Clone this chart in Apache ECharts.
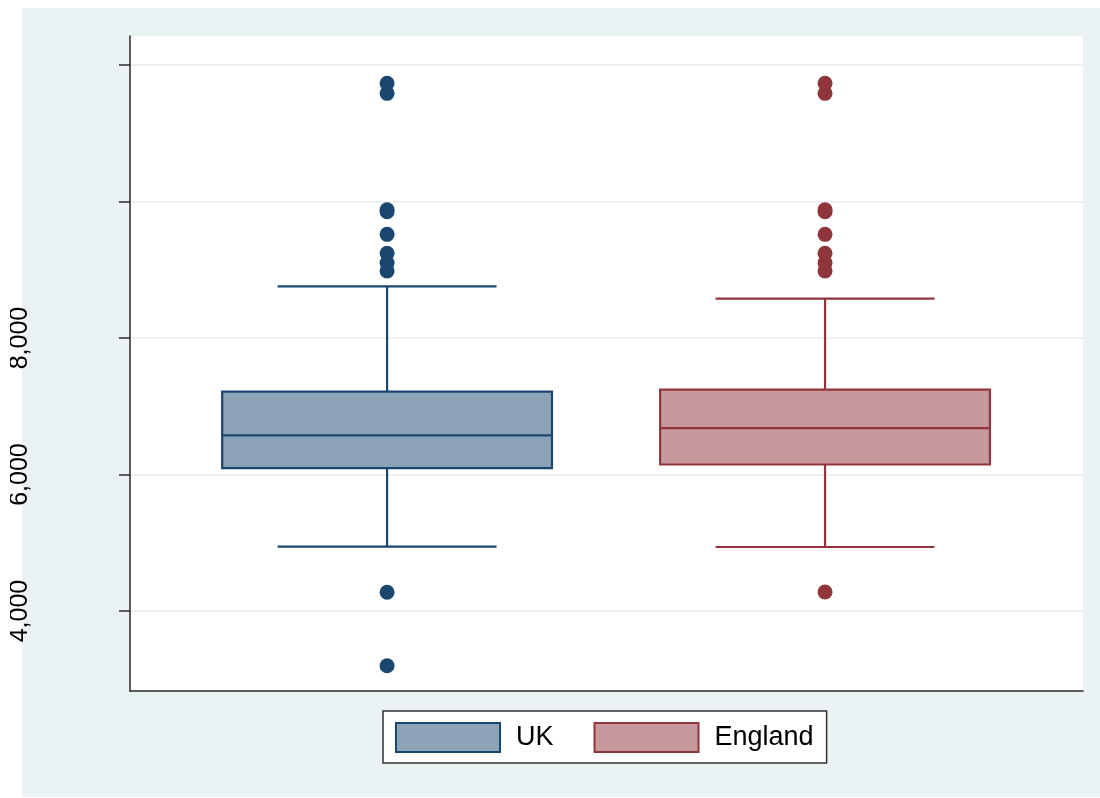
<!DOCTYPE html>
<html>
<head>
<meta charset="utf-8">
<title>UK vs England box plot</title>
<script src="https://cdn.jsdelivr.net/npm/echarts@6/dist/echarts.min.js"></script>
<style>
  html, body { margin: 0; padding: 0; background: #ffffff; }
  #chart { width: 1100px; height: 798px; }
</style>
</head>
<body>
<div id="chart"></div>
<script>
// Groups and their x positions
const categories = ['UK', 'England'];
const positions = [1, 2];

// Box statistics: [lower whisker, Q1, median, Q3, upper whisker]
const ukBox = [4942, 6095, 6574, 7213, 8757];
const englandBox = [4938, 6147, 6681, 7245, 8576];

// Outside values
const ukOutliers = [3199, 4274, 8982, 9103, 9241, 9519, 9850, 9880, 11585, 11732];
const englandOutliers = [4278, 8982, 9103, 9241, 9519, 9850, 9880, 11585, 11732];

// Axis ticks and labels
const yTicks = [4000, 6000, 8000, 10000, 12000];
const yLabels = [4000, 6000, 8000];

const lineColors = ['#1A476F', '#90353B'];
const fillColors = ['#8CA3B7', '#C8999C'];

const BOX_W = 0.753;
const CAP_W = 0.5;

function boxRenderer(lineColor, fillColor) {
  return function (params, api) {
    const x = api.value(0);
    const lo = api.value(1), q1 = api.value(2), med = api.value(3), q3 = api.value(4), hi = api.value(5);
    const c = (xx, yy) => api.coord([xx, yy]);
    const hb = BOX_W / 2, hc = CAP_W / 2;
    const bl = c(x - hb, q3), br = c(x + hb, q1);
    const lineStyle = { stroke: lineColor, lineWidth: 2.2, fill: null };
    const seg = (a, b) => ({ type: 'line', shape: { x1: a[0], y1: a[1], x2: b[0], y2: b[1] }, style: lineStyle });
    return {
      type: 'group',
      children: [
        seg(c(x, hi), c(x, q3)),
        seg(c(x, lo), c(x, q1)),
        seg(c(x - hc, hi), c(x + hc, hi)),
        seg(c(x - hc, lo), c(x + hc, lo)),
        {
          type: 'rect',
          shape: { x: bl[0], y: bl[1], width: br[0] - bl[0], height: br[1] - bl[1] },
          style: { fill: fillColor, stroke: lineColor, lineWidth: 2.2 }
        },
        seg(c(x - hb, med), c(x + hb, med))
      ]
    };
  };
}

const boxes = [ukBox, englandBox];
const outliers = [ukOutliers, englandOutliers];

const series = [];
categories.forEach((name, i) => {
  series.push({
    name: name,
    type: 'custom',
    renderItem: boxRenderer(lineColors[i], fillColors[i]),
    encode: { x: 0, y: [1, 2, 3, 4, 5] },
    data: [[positions[i]].concat(boxes[i])],
    z: 3
  });
  series.push({
    name: name,
    type: 'scatter',
    symbol: 'circle',
    symbolSize: 15,
    itemStyle: { color: lineColors[i], opacity: 1 },
    emphasis: { disabled: true },
    data: outliers[i].map(v => [positions[i], v]),
    z: 4
  });
});

const chart = echarts.init(document.getElementById('chart'), null, { renderer: 'canvas' });
chart.setOption({
  animation: false,
  backgroundColor: '#ffffff',
  textStyle: { fontFamily: 'Liberation Sans, Arial, sans-serif' },
  graphic: [
    {
      type: 'rect', z: -10, silent: true,
      shape: { x: 22, y: 8, width: 1078, height: 789 },
      style: { fill: '#EAF2F3' }
    },
    {
      type: 'rect', z: 100, silent: true,
      shape: { x: 0, y: 0, width: 10, height: 798 },
      style: { fill: '#ffffff' }
    }
  ],
  grid: {
    left: 130, right: 17, top: 36, bottom: 107,
    show: true, backgroundColor: '#ffffff', borderWidth: 0
  },
  xAxis: {
    type: 'value',
    min: 0.413,
    max: 2.589,
    axisLine: { show: true, onZero: false, lineStyle: { color: '#2b2b2b', width: 1.5 } },
    axisTick: { show: false },
    axisLabel: { show: false },
    splitLine: { show: false }
  },
  yAxis: {
    type: 'value',
    min: 2828,
    max: 12425,
    axisLine: { show: true, lineStyle: { color: '#2b2b2b', width: 1.5 } },
    axisTick: {
      show: true, length: 11, customValues: yTicks,
      lineStyle: { color: '#2b2b2b', width: 1.5 }
    },
    axisLabel: {
      customValues: yLabels,
      rotate: 90,
      margin: 97,
      fontSize: 25,
      color: '#000000',
      fontFamily: 'Liberation Sans, Arial, sans-serif',
      formatter: v => v.toLocaleString('en-US')
    },
    splitLine: { show: true, lineStyle: { color: '#EAF2F3', width: 2 } }
  },
  legend: {
    left: 383,
    top: 711,
    orient: 'horizontal',
    backgroundColor: '#ffffff',
    borderColor: '#333333',
    borderWidth: 1.5,
    borderRadius: 0,
    padding: [11, 13, 10, 12],
    itemWidth: 104,
    itemHeight: 29,
    itemGap: 40,
    selectedMode: false,
    textStyle: {
      fontSize: 27,
      color: '#000000',
      fontFamily: 'Liberation Sans, Arial, sans-serif',
      padding: [0, 0, 0, 11]
    },
    data: categories.map((name, i) => ({
      name: name,
      icon: 'rect',
      itemStyle: { color: fillColors[i], borderColor: lineColors[i], borderWidth: 2 }
    }))
  },
  series: series
});
</script>
</body>
</html>
